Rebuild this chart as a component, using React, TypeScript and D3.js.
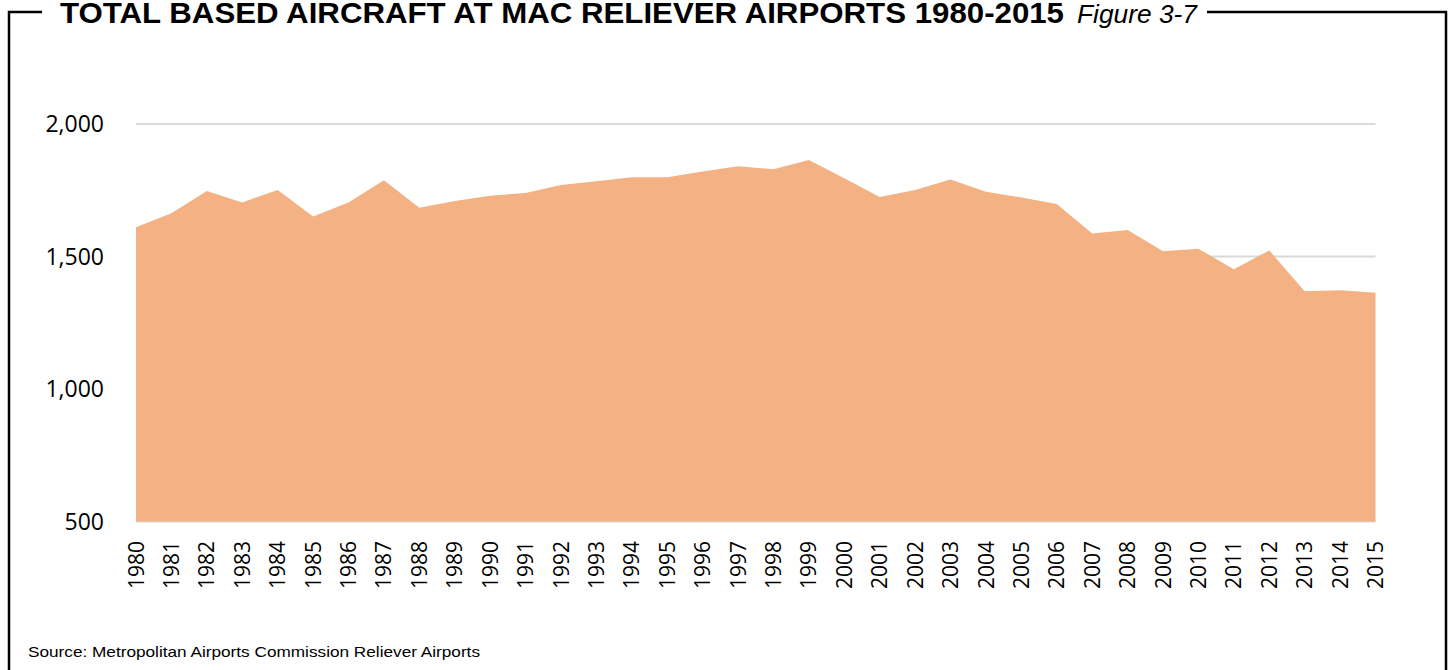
import React from "react";
import * as d3 from "d3";

const years: number[] = [
  1980, 1981, 1982, 1983, 1984, 1985, 1986, 1987, 1988, 1989, 1990, 1991,
  1992, 1993, 1994, 1995, 1996, 1997, 1998, 1999, 2000, 2001, 2002, 2003,
  2004, 2005, 2006, 2007, 2008, 2009, 2010, 2011, 2012, 2013, 2014, 2015,
];
const basedAircraft: number[] = [
  1610, 1663, 1747, 1704, 1751, 1651, 1704, 1788, 1684, 1709, 1729, 1740,
  1770, 1784, 1799, 1799, 1821, 1841, 1829, 1864, 1795, 1725, 1751, 1791,
  1744, 1723, 1698, 1587, 1600, 1520, 1529, 1452, 1523, 1369, 1373, 1363,
];
const yTicks: number[] = [500, 1000, 1500, 2000];
const titleMain = "TOTAL BASED AIRCRAFT AT MAC RELIEVER AIRPORTS 1980-2015";
const titleFigure = "Figure 3-7";
const sourceText = "Source: Metropolitan Airports Commission Reliever Airports";

const W = 1452;
const H = 670;
const X0 = 136;
const X1 = 1375.5;
const Y_TOP = 124;
const Y_BOT = 521.5;

export default function App() {
  const x = d3.scalePoint<number>().domain(years).range([X0, X1]);
  const y = d3.scaleLinear().domain([500, 2000]).range([Y_BOT, Y_TOP]);
  const data = years.map((yr, i) => ({ yr, v: basedAircraft[i] }));
  const area = d3
    .area<{ yr: number; v: number }>()
    .x((d) => x(d.yr) as number)
    .y0(y(500))
    .y1((d) => y(d.v));
  const fmt = d3.format(",");

  return (
    <div style={{ position: "absolute", left: 0, top: 0 }}>
      <svg width={W} height={H} style={{ display: "block", background: "#fff" }}>
        {/* frame */}
        <path
          d={`M9,${H + 5} L9,12 L42,12`}
          fill="none"
          stroke="#000"
          strokeWidth={2.5}
        />
        <path
          d={`M1207,12 L1446,12 L1446,${H + 5}`}
          fill="none"
          stroke="#000"
          strokeWidth={2.5}
        />
        {/* title */}
        <text
          x={60}
          y={23}
          fontFamily="'Liberation Sans', Arial, sans-serif"
          fontWeight="bold"
          fontSize={30}
          textLength={1004}
          lengthAdjust="spacingAndGlyphs"
          fill="#000"
        >
          {titleMain}
        </text>
        <text
          x={1077}
          y={23}
          fontFamily="'Liberation Sans', Arial, sans-serif"
          fontStyle="italic"
          fontSize={25}
          textLength={120}
          lengthAdjust="spacingAndGlyphs"
          fill="#000"
        >
          {titleFigure}
        </text>
        {/* gridlines */}
        {yTicks.map((t) => (
          <line
            key={`g${t}`}
            x1={X0}
            x2={X1}
            y1={y(t)}
            y2={y(t)}
            stroke="#d9d9d9"
            strokeWidth={2}
          />
        ))}
        {/* area */}
        <path d={area(data) ?? ""} fill="#F4B183" />
        {/* y labels */}
        {yTicks.map((t) => (
          <text
            key={`y${t}`}
            x={104}
            y={y(t)}
            dy="0.36em"
            textAnchor="end"
            fontFamily="'Open Sans', sans-serif"
            fontSize={23}
            fill="#000"
          >
            {fmt(t)}
          </text>
        ))}
        {/* x labels */}
        {years.map((yr) => (
          <text
            key={`x${yr}`}
            transform={`translate(${x(yr)},541) rotate(-90)`}
            dy="0.36em"
            textAnchor="end"
            fontFamily="'Open Sans', sans-serif"
            fontSize={21}
            fill="#000"
          >
            {yr}
          </text>
        ))}
        {/* source */}
        <text
          x={28}
          y={657}
          fontFamily="'Liberation Sans', Arial, sans-serif"
          fontSize={15}
          textLength={452}
          lengthAdjust="spacingAndGlyphs"
          fill="#000"
        >
          {sourceText}
        </text>
      </svg>
    </div>
  );
}
